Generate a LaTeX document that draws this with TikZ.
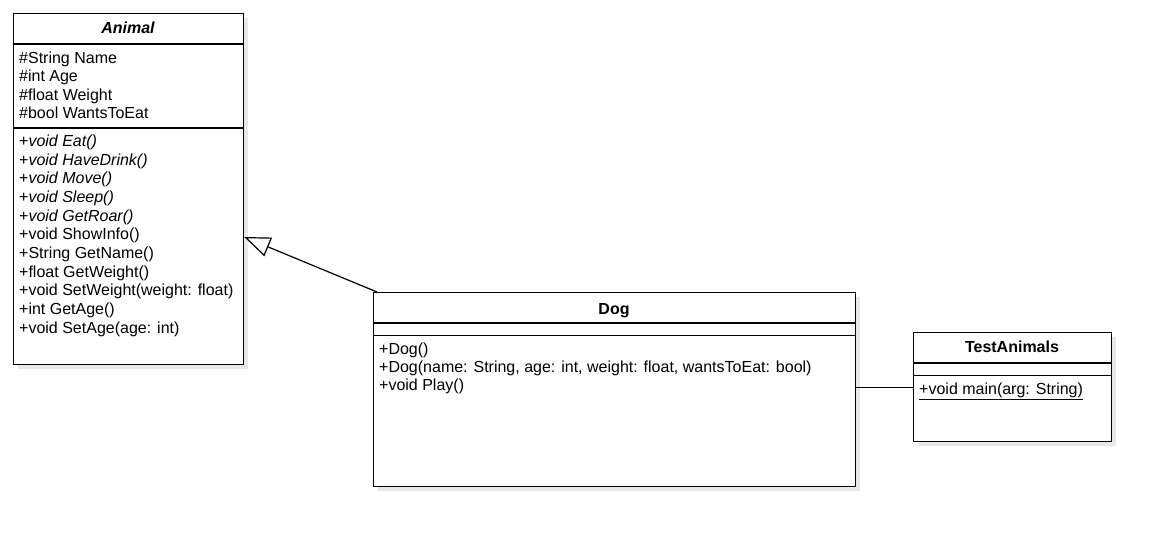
\documentclass[tikz,border=0pt]{standalone}
\usepackage{fontspec}
\setmainfont{Liberation Sans}
\usetikzlibrary{arrows.meta, positioning, calc, shadows}
\newcommand{\umlfont}{\fontsize{16}{18.6}\selectfont}

\tikzset{
  classbox/.style={draw, line width=1.2pt, fill=white, anchor=north west, inner sep=0pt,
    drop shadow={shadow xshift=4pt, shadow yshift=-4pt, fill=black!9, opacity=1}},
  classname/.style={anchor=base, inner sep=0pt, font=\umlfont\bfseries},
  member/.style={anchor=base west, inner sep=0pt, font=\umlfont},
  divider/.style={line width=1.2pt},
  inherit/.style={-{Triangle[open, length=26pt, width=20pt]}, line width=1.2pt},
  assoc/.style={line width=1.2pt}
}

\begin{document}
\begin{tikzpicture}[x=1pt, y=-1pt]
  \useasboundingbox (0,0) rectangle (1160,536);

  % Class boxes
  \node[classbox, minimum width=230pt, minimum height=351pt] (animal) at (13,13) {};
  \node[classbox, minimum width=482pt, minimum height=194pt] (dog) at (373,292) {};
  \node[classbox, minimum width=198pt, minimum height=109pt] (test) at (913,332) {};

  % Compartments
  \draw[divider] ($(animal.north west)+(0,31)$) -- ($(animal.north east)+(0,31)$);
  \draw[divider] ($(animal.north west)+(0,115)$) -- ($(animal.north east)+(0,115)$);
  \draw[divider] ($(dog.north west)+(0,31)$) -- ($(dog.north east)+(0,31)$);
  \draw[divider] ($(dog.north west)+(0,43.5)$) -- ($(dog.north east)+(0,43.5)$);
  \draw[divider] ($(test.north west)+(0,31)$) -- ($(test.north east)+(0,31)$);
  \draw[divider] ($(test.north west)+(0,43.5)$) -- ($(test.north east)+(0,43.5)$);

  % Class names
  \node[classname, font=\umlfont\bfseries\itshape] (animal-name) at (128,33.3) {Animal};
  \node[classname] (dog-name) at (614,314) {Dog};
  \node[classname] (test-name) at (1012,352.5) {TestAnimals};

  % Animal attributes
  \foreach \txt [count=\i] in {\#String Name, \#int Age, \#float Weight, \#bool WantsToEat}
    \node[member] (animal-attr\i) at (19,{63+(\i-1)*18.6}) {\txt};

  % Animal methods
  \foreach \txt [count=\i] in {+\textit{void Eat()}, +\textit{void HaveDrink()},
      +\textit{void Move()}, +\textit{void Sleep()}, +\textit{void GetRoar()},
      +void ShowInfo(), +String GetName(), +float GetWeight(),
      +void SetWeight(weight: float), +int GetAge(), +void SetAge(age: int)}
    \node[member] (animal-op\i) at (19,{146.7+(\i-1)*18.63}) {\txt};

  % Dog methods
  \foreach \txt [count=\i] in {+Dog(), {+Dog(name: String, age: int, weight: float, wantsToEat: bool)}, +void Play()}
    \node[member] (dog-op\i) at (379,{354+(\i-1)*18.3}) {\txt};

  % TestAnimals method
  \node[member] (test-op1) at (919,394) {\underline{+void main(arg: String)}};

  % Relations
  \draw[inherit] ($(dog.north west)+(4,0)$) -- ($(animal.north east)+(0,224)$);
  \draw[assoc] ($(dog.north east)+(0,95.5)$) -- ($(test.north west)+(0,55.5)$);
\end{tikzpicture}
\end{document}
